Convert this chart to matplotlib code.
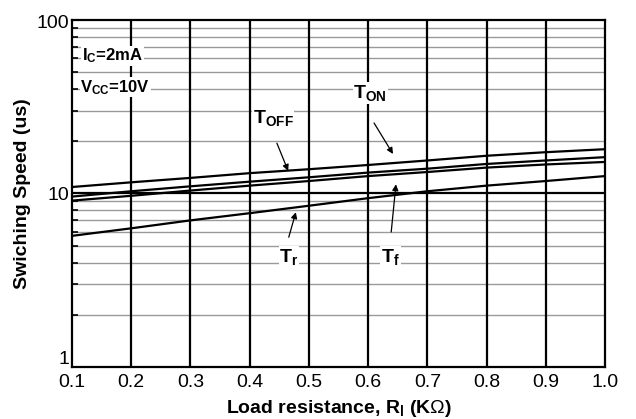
import matplotlib
matplotlib.use("Agg")
import matplotlib.pyplot as plt
import matplotlib.transforms as mtransforms
from matplotlib.ticker import FixedLocator, NullFormatter, FixedFormatter

plt.rcParams['font.family'] = ['Liberation Sans', 'DejaVu Sans']
plt.rcParams['mathtext.fontset'] = 'custom'
plt.rcParams['mathtext.rm'] = 'Liberation Sans'
plt.rcParams['mathtext.bf'] = 'Liberation Sans:bold'
plt.rcParams['mathtext.it'] = 'Liberation Sans:italic'

# Data
load_res = [0.1, 0.2, 0.3, 0.4, 0.5, 0.6, 0.7, 0.8, 0.9, 1.0]
t_off = [10.9, 11.6, 12.3, 13.1, 13.8, 14.6, 15.5, 16.5, 17.3, 18.0]
t_on = [9.6, 10.3, 11.0, 11.7, 12.4, 13.2, 13.9, 14.8, 15.5, 16.2]
t_f = [9.1, 9.7, 10.4, 11.1, 11.8, 12.6, 13.3, 14.1, 14.7, 15.2]
t_r = [5.7, 6.3, 7.0, 7.7, 8.5, 9.4, 10.3, 11.1, 11.8, 12.6]

x_ticks = [0.1, 0.2, 0.3, 0.4, 0.5, 0.6, 0.7, 0.8, 0.9, 1.0]
x_tick_labels = ['0.1', '0.2', '0.3', '0.4', '0.5', '0.6', '0.7', '0.8', '0.9', '1.0']
y_ticks = [1, 10, 100]
y_tick_labels = ['1', '10', '100']

fig = plt.figure(figsize=(6.36, 4.19), dpi=100)
ax = fig.add_axes([72/636, 52/419, 533/636, 347/419])

ax.set_yscale('log')
ax.set_xlim(0.1, 1.0)
ax.set_ylim(1, 100)

# grid
minor_y = [v * d for d in (1, 10) for v in range(2, 10)]
for v in minor_y:
    ax.axhline(v, color='#9a9a9a', lw=1.0, zorder=1)
ax.axhline(10, color='black', lw=1.6, zorder=2)
for xv in x_ticks[1:-1]:
    ax.axvline(xv, color='black', lw=1.6, zorder=2)

ax.xaxis.set_major_locator(FixedLocator(x_ticks))
ax.xaxis.set_major_formatter(FixedFormatter(x_tick_labels))
ax.yaxis.set_major_locator(FixedLocator(y_ticks))
ax.yaxis.set_major_formatter(FixedFormatter(y_tick_labels))
ax.yaxis.set_minor_locator(FixedLocator(minor_y))
ax.yaxis.set_minor_formatter(NullFormatter())
ax.tick_params(axis='x', which='both', length=0, labelsize=14, pad=5)
ax.tick_params(axis='y', which='major', length=0, labelsize=14, pad=2)
ax.tick_params(axis='y', which='minor', direction='in', length=4, width=1.2, left=True, right=False)
for s in ax.spines.values():
    s.set_linewidth(1.6)
    s.set_zorder(5)

# lift the "1" label above the "0.1" label
fig.canvas.draw()
ylabels = ax.get_yticklabels()
ylabels[0].set_transform(ylabels[0].get_transform() +
                         mtransforms.ScaledTranslation(0, 10/100, fig.dpi_scale_trans))
ylabels[2].set_transform(ylabels[2].get_transform() +
                         mtransforms.ScaledTranslation(0, -2/100, fig.dpi_scale_trans))

for series in (t_off, t_on, t_f, t_r):
    ax.plot(load_res, series, color='black', lw=1.6, zorder=4)

bbox = dict(facecolor='white', edgecolor='none', pad=0.5)
ax.text(0.117, 62, r'$\mathbf{I}_{\mathbf{C}}$=2mA', fontsize=12, fontweight='bold', ha='left', va='center', bbox=bbox, zorder=6)
ax.text(0.114, 41, r'$\mathbf{V}_{\mathbf{CC}}$=10V', fontsize=12, fontweight='bold', ha='left', va='center', bbox=bbox, zorder=6)

lab_kw = dict(fontsize=14, ha='left', va='center', zorder=6, bbox=bbox)
arrow_kw = dict(arrowstyle='-|>', color='black', lw=0.9, mutation_scale=9, shrinkA=0, shrinkB=0)

ax.text(0.405, 27.2, r'$\mathbf{T}_{\mathbf{OFF}}$', **lab_kw)
ax.annotate('', xy=(0.465, 13.5), xytext=(0.446, 19.5), arrowprops=arrow_kw, zorder=6)
ax.text(0.575, 37.9, r'$\mathbf{T}_{\mathbf{ON}}$', **lab_kw)
ax.annotate('', xy=(0.642, 16.9), xytext=(0.610, 25.5), arrowprops=arrow_kw, zorder=6)
ax.text(0.450, 4.3, r'$\mathbf{T}_{\mathbf{r}}$', **lab_kw)
ax.annotate('', xy=(0.478, 7.8), xytext=(0.466, 5.6), arrowprops=arrow_kw, zorder=6)
ax.text(0.622, 4.3, r'$\mathbf{T}_{\mathbf{f}}$', **lab_kw)
ax.annotate('', xy=(0.647, 11.3), xytext=(0.639, 6.0), arrowprops=arrow_kw, zorder=6)

ax.set_ylabel('Swiching Speed (us)', fontsize=14, fontweight='bold', labelpad=4)
ax.set_xlabel(r'Load resistance, R$_{\mathbf{l}}$ (K$\Omega$)', fontsize=14, fontweight='bold', labelpad=5)

fig.text(128/636, 1 + 5/419, 'Swiching Speed vs. Loading', fontsize=12, fontweight='bold',
         ha='left', va='baseline')

fig.savefig('out.png', dpi=100)
